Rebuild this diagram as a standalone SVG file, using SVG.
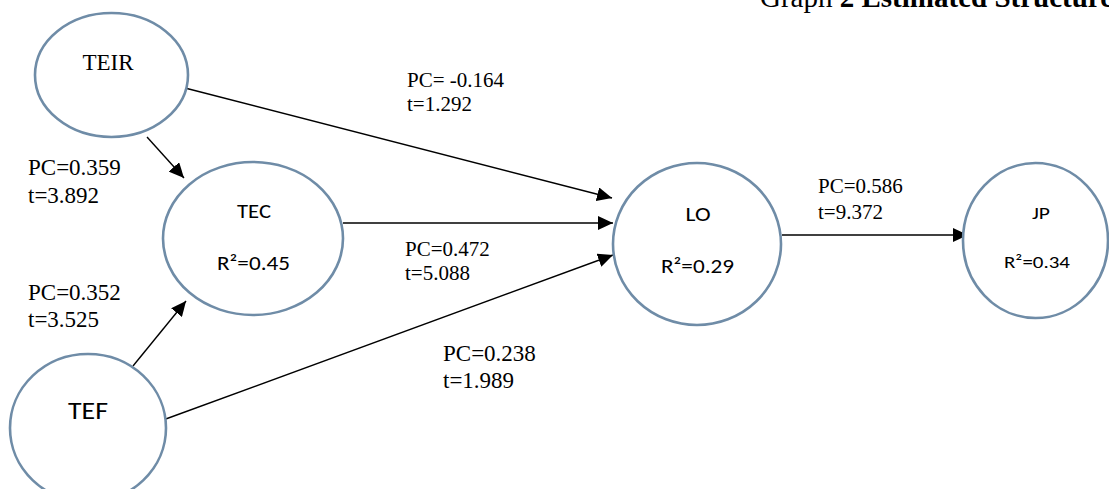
<svg xmlns="http://www.w3.org/2000/svg" width="1109" height="489" viewBox="0 0 1109 489">
  <defs>
    <marker id="arrow" markerUnits="userSpaceOnUse" markerWidth="16" markerHeight="14" refX="15" refY="7" orient="auto">
      <path d="M0,0 L15,7 L0,14 Z" fill="#000"/>
    </marker>
    <style>
      .node { fill: #fff; stroke: #6f8ca7; stroke-width: 2.6; }
      .conn { stroke: #000; stroke-width: 1.4; fill: none; marker-end: url(#arrow); }
      .serif { font-family: "Liberation Serif", "Times New Roman", serif; fill: #000; }
      .sans { font-family: Carlito, "Liberation Sans", Arial, sans-serif; fill: #000; text-anchor: middle; }
    </style>
  </defs>
  <rect width="1109" height="489" fill="#fff"/>

  <text class="serif" x="760" y="7" font-size="29">Graph <tspan font-weight="bold">2 Estimated Structure</tspan></text>

  <g id="connectors">
    <line class="conn" x1="185" y1="88" x2="612" y2="198"/>
    <line class="conn" x1="343" y1="223" x2="613" y2="223"/>
    <line class="conn" x1="163" y1="420" x2="613" y2="255"/>
    <line class="conn" x1="147" y1="137" x2="184" y2="178"/>
    <line class="conn" x1="133" y1="366" x2="186" y2="301"/>
    <line class="conn" x1="782" y1="235" x2="968" y2="235"/>
  </g>

  <g id="node-TEIR">
    <ellipse class="node" cx="111.5" cy="75" rx="76.5" ry="62"/>
    <text class="serif" x="108" y="70" font-size="23" text-anchor="middle">TEIR</text>
  </g>
  <g id="node-TEC">
    <ellipse class="node" cx="253" cy="238.5" rx="90" ry="76.5"/>
    <text class="sans" x="254" y="218" font-size="21" textLength="34" lengthAdjust="spacingAndGlyphs">TEC</text>
    <text class="sans" x="253.5" y="270" font-size="21" textLength="73" lengthAdjust="spacingAndGlyphs">R²=0.45</text>
  </g>
  <g id="node-LO">
    <ellipse class="node" cx="697" cy="244" rx="84" ry="81"/>
    <text class="sans" x="698" y="221" font-size="21" textLength="25" lengthAdjust="spacingAndGlyphs">LO</text>
    <text class="sans" x="697.5" y="273" font-size="21" textLength="73" lengthAdjust="spacingAndGlyphs">R²=0.29</text>
  </g>
  <g id="node-JP">
    <ellipse class="node" cx="1035.5" cy="240.5" rx="72.5" ry="77.5"/>
    <text class="sans" x="1041" y="219" font-size="16" textLength="18" lengthAdjust="spacingAndGlyphs">JP</text>
    <text class="sans" x="1037" y="268" font-size="17" textLength="66" lengthAdjust="spacingAndGlyphs">R²=0.34</text>
  </g>
  <g id="node-TEF">
    <ellipse class="node" cx="88" cy="428" rx="78" ry="74"/>
    <text class="sans" x="88" y="419" font-size="25" textLength="40" lengthAdjust="spacingAndGlyphs">TEF</text>
  </g>

  <g id="labels">
    <text class="serif" x="407" y="87" font-size="21">PC= -0.164</text>
    <text class="serif" x="407" y="111" font-size="21">t=1.292</text>
    <text class="serif" x="28" y="175" font-size="23">PC=0.359</text>
    <text class="serif" x="28" y="203" font-size="23">t=3.892</text>
    <text class="serif" x="28" y="300" font-size="23">PC=0.352</text>
    <text class="serif" x="28" y="327" font-size="23">t=3.525</text>
    <text class="serif" x="405" y="256" font-size="21">PC=0.472</text>
    <text class="serif" x="405" y="280" font-size="21">t=5.088</text>
    <text class="serif" x="818" y="193" font-size="21">PC=0.586</text>
    <text class="serif" x="818" y="219" font-size="21">t=9.372</text>
    <text class="serif" x="443" y="361" font-size="23">PC=0.238</text>
    <text class="serif" x="443" y="388" font-size="23">t=1.989</text>
  </g>
</svg>
